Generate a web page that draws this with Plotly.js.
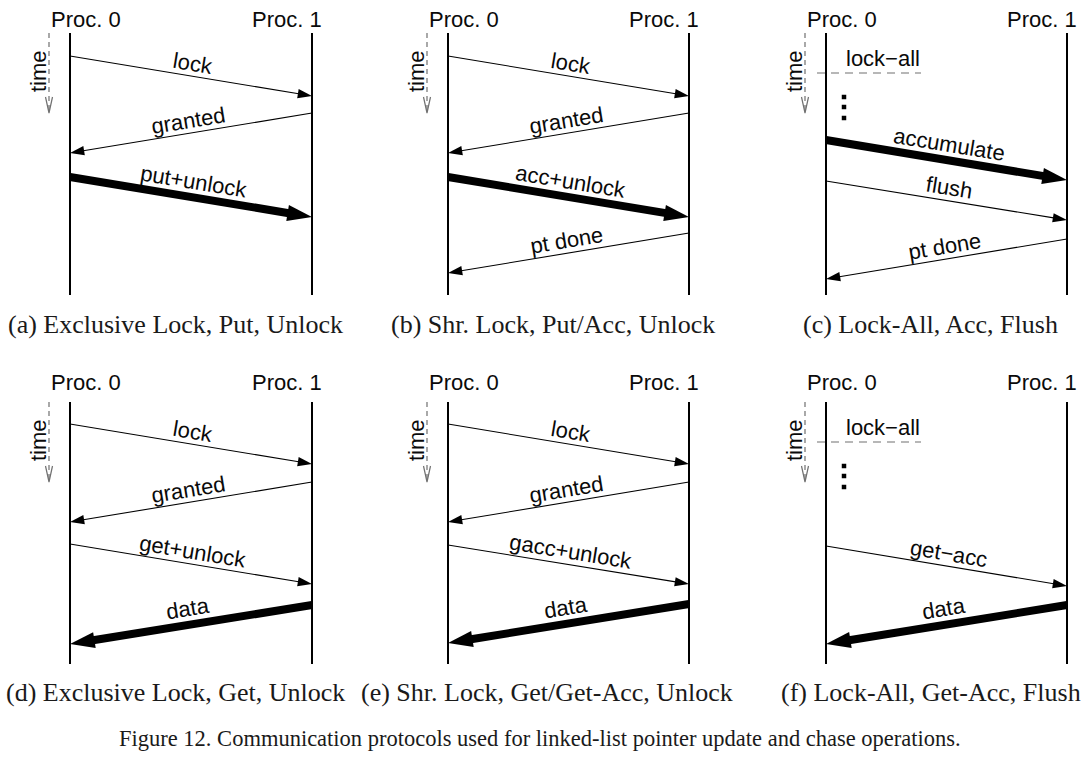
<!DOCTYPE html>
<html><head><meta charset="utf-8">
<script src="https://cdn.plot.ly/plotly-3.0.1.min.js"></script>
<style>html,body{margin:0;padding:0;background:#fff}#chart{width:1085px;height:761px}</style>
</head><body><div id="chart"></div>
<script>
// ---------------- DATA ----------------
const panelCaptions = [
  '(a) Exclusive Lock, Put, Unlock',
  '(b) Shr. Lock, Put/Acc, Unlock',
  '(c) Lock-All, Acc, Flush',
  '(d) Exclusive Lock, Get, Unlock',
  '(e) Shr. Lock, Get/Get-Acc, Unlock',
  '(f) Lock-All, Get-Acc, Flush'
];
const procNames = ['Proc. 0', 'Proc. 1'];
const timeLabel = 'time';
const figureCaption = 'Figure 12. Communication protocols used for linked-list pointer update and chase operations.';
const lifelineEnd = 26.2;           // time units (lifeline length)

// messages (panel index, label, sender, send time, receive time, bulk payload?)
const msgPanel = [0,0,0, 1,1,1,1, 2,2,2, 3,3,3,3, 4,4,4,4, 5,5];
const msgLabel = ['lock','granted','put+unlock',
                  'lock','granted','acc+unlock','pt done',
                  'accumulate','flush','pt done',
                  'lock','granted','get+unlock','data',
                  'lock','granted','gacc+unlock','data',
                  'get\u2212acc','data'];
const msgFrom  = [0,1,0, 0,1,0,1, 0,0,1, 0,1,0,1, 0,1,0,1, 0,1];
const msgSend  = [2.3,8.0,14.4, 2.3,8.0,14.4,20.0, 10.7,14.8,20.6, 2.2,8.0,14.2,20.3, 2.2,8.0,14.3,20.2, 14.4,20.3];
const msgRecv  = [6.3,12.0,18.4, 6.3,12.0,18.4,24.0, 14.7,18.7,24.6, 6.2,12.0,18.2,24.2, 6.2,12.0,18.2,24.1, 18.4,24.2];
const msgBulk  = [false,false,true, false,false,true,false, true,false,false, false,false,false,true, false,false,false,true, false,true];

// lock-all epochs (panel, time) and elided operations
const lockAllPanel = [2, 5];
const lockAllTime  = [4.0, 4.0];
const lockAllLabel = 'lock\u2212all';
const elisionTimes = [6.4, 7.4, 8.5];

// ---------------- LAYOUT GEOMETRY ----------------
const W = 1085, H = 761, S = 10; // S: px per time unit
const colLeftPx  = [0, 360, 720];
const colRightPx = [360, 720, 1085];
const proc0Px = [70, 448, 826];
const proc1Px = [312, 689, 1067];
const rowTopPx = [0, 352];
const rowBotPx = [352, 700];
const lifeTopPx = [33, 402];
const procLabelPx = [19.5, 382];
const captionPx = [325, 692];
// caption anchor position and side per row/col
const captionX = [[175, 553, 1060], [175, 547, 1083]];
const captionAnchor = [['center','center','right'], ['center','center','right']];

const SANS = 'Liberation Sans, Arial, Helvetica, sans-serif';
const SERIF = 'Liberation Serif, Times New Roman, serif';
const GRAY = '#707070';
const INK = '#0a0a0a';
const LBL = 22;

const traces = [];
const annotations = [];
const layout = {
  width: W, height: H, margin: {l:0, r:0, t:0, b:0},
  paper_bgcolor: '#ffffff', plot_bgcolor: 'rgba(0,0,0,0)',
  showlegend: false, hovermode: false,
  font: {family: SANS, color: INK},
  annotations: annotations
};

for (let i = 0; i < 6; i++) {
  const col = i % 3, row = Math.floor(i / 3);
  const w = proc1Px[col] - proc0Px[col];
  const sfx = i ? String(i + 1) : '';
  const xr = 'x' + sfx, yr = 'y' + sfx;
  layout['xaxis' + sfx] = {
    domain: [colLeftPx[col] / W, colRightPx[col] / W],
    range: [(colLeftPx[col] - proc0Px[col]) / w, (colRightPx[col] - proc0Px[col]) / w],
    visible: false, fixedrange: true, anchor: yr
  };
  layout['yaxis' + sfx] = {
    domain: [1 - rowBotPx[row] / H, 1 - rowTopPx[row] / H],
    range: [(rowBotPx[row] - lifeTopPx[row]) / S, (rowTopPx[row] - lifeTopPx[row]) / S],
    visible: false, fixedrange: true, anchor: xr
  };
  const px = d => d / w; // pixel offset -> x units
  const pt = d => d / S; // pixel offset -> time units

  // lifelines
  [0, 1].forEach(p => {
    traces.push({type:'scatter', mode:'lines', xaxis:xr, yaxis:yr,
      x:[p, p], y:[0, lifelineEnd], line:{color:'#000', width:2}, hoverinfo:'skip'});
    annotations.push({xref:xr, yref:'paper', x:p, y:1 - procLabelPx[row] / H,
      xshift: p === 0 ? 16 : -25, text: procNames[p], showarrow:false,
      font:{family:SANS, size:LBL, color:INK}, xanchor:'center', yanchor:'middle'});
  });

  // time indicator
  const tx = px(-21);
  traces.push({type:'scatter', mode:'lines', xaxis:xr, yaxis:yr,
    x:[tx, tx], y:[0, 7.8], line:{color:GRAY, width:1.2, dash:'5px,4px'}, hoverinfo:'skip'});
  traces.push({type:'scatter', mode:'lines', xaxis:xr, yaxis:yr,
    x:[tx + px(-3.5), tx, tx + px(3.5)], y:[6.4, 8.0, 6.4], line:{color:GRAY, width:1.2}, hoverinfo:'skip'});
  annotations.push({xref:xr, yref:yr, x:tx, y:3.8, xshift:-11, text:timeLabel, textangle:-90,
    showarrow:false, font:{family:SANS, size:LBL, color:INK}, xanchor:'center', yanchor:'middle'});

  // lock-all
  lockAllPanel.forEach((pp, k) => {
    if (pp !== i) return;
    const t = lockAllTime[k];
    traces.push({type:'scatter', mode:'lines', xaxis:xr, yaxis:yr,
      x:[px(-9), px(95)], y:[t, t], line:{color:GRAY, width:1.2, dash:'8px,6px'}, hoverinfo:'skip'});
    annotations.push({xref:xr, yref:yr, x:px(57), y:t - pt(15), text:lockAllLabel, showarrow:false,
      font:{family:SANS, size:LBL, color:INK}, xanchor:'center', yanchor:'middle'});
    traces.push({type:'scatter', mode:'markers', xaxis:xr, yaxis:yr,
      x:elisionTimes.map(() => px(18)), y:elisionTimes,
      marker:{symbol:'square', size:4.5, color:'#000', line:{width:0}}, hoverinfo:'skip'});
  });

  // messages
  msgPanel.forEach((pp, m) => {
    if (pp !== i) return;
    const x0 = msgFrom[m], x1 = 1 - msgFrom[m];
    const y0 = msgSend[m], y1 = msgRecv[m];
    const bulk = msgBulk[m];
    traces.push({type:'scatter', mode:'lines+markers', xaxis:xr, yaxis:yr,
      x:[x0, x1], y:[y0, y1],
      line:{color:'#000', width: bulk ? 8 : 1.1, backoff:'auto'},
      marker:{symbol:'arrow', angleref:'previous', size: bulk ? 26 : 15, color:'#000', line:{width:0}},
      cliponaxis:false, hoverinfo:'skip'});
    const tL = x0 === 0 ? y0 : y1, tR = x0 === 0 ? y1 : y0;
    const th = Math.atan2((tR - tL) * S, w);
    const d = bulk ? 16 : 13;
    annotations.push({xref:xr, yref:yr, x:(x0 + x1) / 2, y:(y0 + y1) / 2,
      xshift: d * Math.sin(th), yshift: d * Math.cos(th),
      textangle: th * 180 / Math.PI, text: msgLabel[m], showarrow:false,
      font:{family:SANS, size:LBL, color:INK}, xanchor:'center', yanchor:'middle'});
  });

  // caption
  annotations.push({xref:'paper', yref:'paper', x:captionX[row][col] / W, y:1 - captionPx[row] / H,
    text: panelCaptions[i], showarrow:false, font:{family:SERIF, size:26, color:'#1a1a1a'},
    xanchor:captionAnchor[row][col], yanchor:'middle'});
}

annotations.push({xref:'paper', yref:'paper', x:540 / W, y:1 - 738 / H, text:figureCaption,
  showarrow:false, font:{family:SERIF, size:22.5, color:'#1a1a1a'}, xanchor:'center', yanchor:'middle'});

Plotly.newPlot('chart', traces, layout, {staticPlot:true, displayModeBar:false});
</script>
</body></html>
